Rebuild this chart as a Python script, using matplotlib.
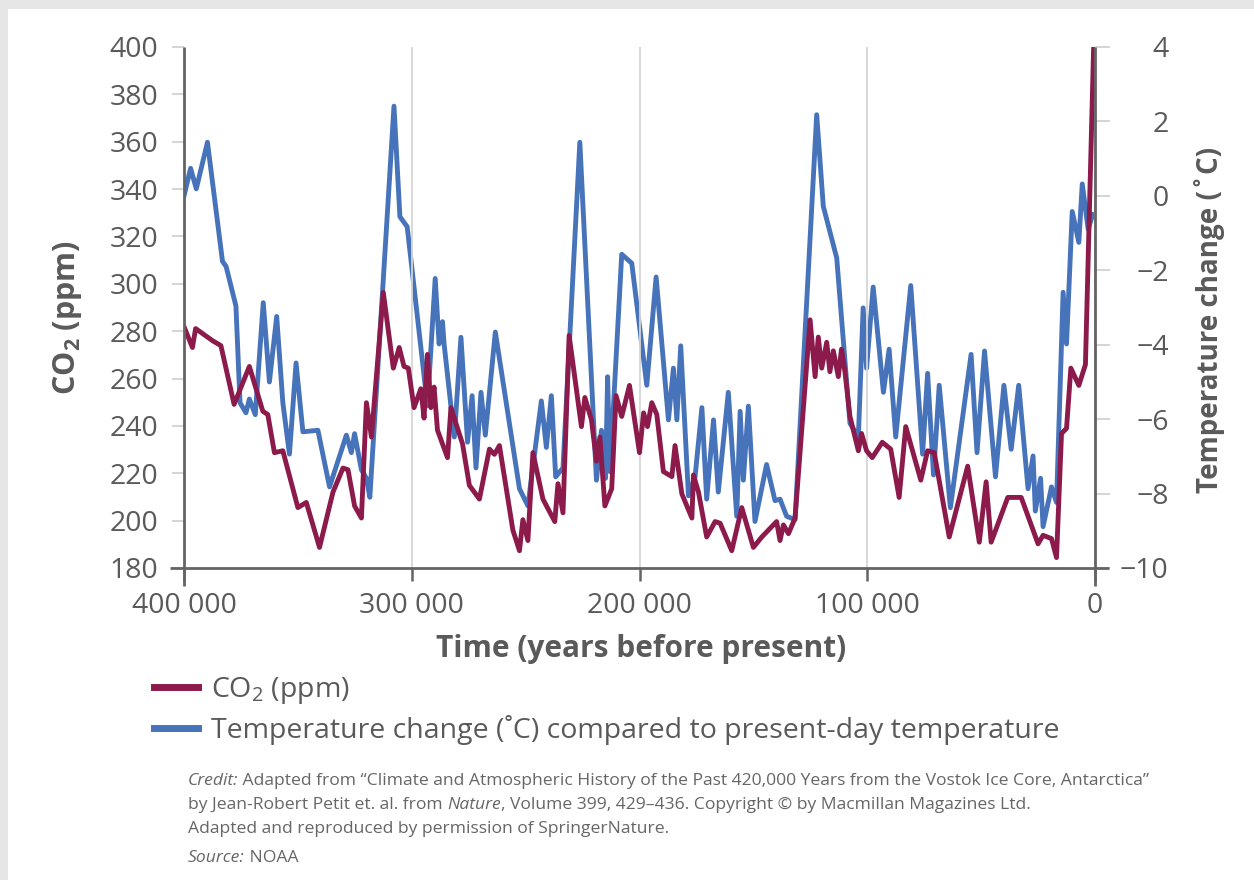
import numpy as np
import matplotlib
matplotlib.use("Agg")
import matplotlib.pyplot as plt
from matplotlib.lines import Line2D
from matplotlib.patches import Rectangle
from matplotlib.transforms import IdentityTransform

plt.rcParams['font.family'] = ['Open Sans', 'DejaVu Sans']
plt.rcParams['mathtext.fontset'] = 'custom'
plt.rcParams['mathtext.rm'] = 'Open Sans'
plt.rcParams['mathtext.it'] = 'Open Sans:italic'
plt.rcParams['mathtext.bf'] = 'Open Sans:bold'

# ---------------- data (time in thousand years before present) ----------------
temp_kyr = [400, 397.1, 394.6, 389.7, 383.1, 381.5, 377.2, 375.4, 372.8, 371.3, 368.7, 365.2,
            362.5, 359.3, 356.6, 353.7, 350.8, 347.8, 341.2, 336.1, 328.7, 326.5, 325.1, 322.1,
            319.9, 318.4, 307.8, 305.2, 302.0, 293.1, 289.7, 288.0, 286.5, 285.8, 281.3, 278.4,
            275.5, 273.5, 271.8, 269.6, 267.7, 263.3, 252.7, 249.0, 243.1, 240.9, 238.7, 236.8,
            233.6, 226.2, 218.9, 216.7, 214.9, 214.0, 213.0, 207.8, 203.4, 196.8, 192.7, 187.3,
            185.1, 183.6, 181.9, 178.5, 175.6, 172.6, 170.5, 167.5, 165.4, 161.0, 157.3, 155.8,
            154.4, 152.2, 149.3, 144.2, 140.5, 138.3, 135.4, 131.7, 122.2, 119.3, 113.4, 107.6,
            103.9, 101.8, 100.3, 97.4, 92.9, 90.4, 87.5, 80.9, 75.7, 73.5, 70.9, 68.4, 63.5,
            54.4, 51.8, 48.5, 43.7, 40.0, 36.8, 33.5, 29.4, 27.2, 26.2, 23.9, 22.8, 19.1, 16.9,
            14.0, 12.5, 10.0, 7.1, 5.6, 3.0, 1.0]
temp_change = [0.0, 0.74, 0.19, 1.44, -1.76, -1.9, -2.96, -5.56, -5.83, -5.46, -5.88, -2.87,
               -5.0, -3.24, -5.56, -6.94, -4.49, -6.34, -6.30, -7.82, -6.43, -6.90, -6.39, -7.36,
               -7.59, -8.10, 2.41, -0.56, -0.83, -5.64, -2.22, -3.98, -3.38, -3.98, -6.48, -3.80,
               -6.62, -5.37, -7.31, -5.28, -6.43, -3.66, -7.87, -8.33, -5.51, -6.76, -5.37, -7.55,
               -7.31, 1.44, -7.64, -6.30, -7.59, -4.86, -7.41, -1.57, -1.81, -5.09, -2.18, -6.02,
               -4.63, -6.02, -4.03, -8.06, -7.55, -5.69, -8.15, -6.02, -7.96, -5.28, -8.61, -5.79,
               -7.64, -5.65, -8.75, -7.22, -8.19, -8.15, -8.61, -8.70, 2.18, -0.28, -1.67, -6.11,
               -6.48, -3.01, -4.63, -2.45, -5.28, -4.12, -6.48, -2.41, -6.94, -4.77, -7.50, -5.09,
               -8.38, -4.26, -6.90, -4.17, -7.55, -5.09, -6.81, -5.09, -7.87, -6.99, -8.47, -7.59,
               -8.89, -7.82, -8.24, -2.59, -3.98, -0.42, -1.25, 0.32, -0.9, -0.5]

co2_kyr = [400, 396.3, 394.9, 387.5, 383.8, 378.0, 371.3, 365.4, 363.2, 360.3, 356.6, 350.0,
           346.3, 340.5, 334.6, 330.2, 328.0, 325.1, 322.1, 319.9, 317.7, 312.5, 308.1, 305.5,
           303.4, 301.5, 299.0, 296.0, 294.6, 293.1, 291.6, 290.2, 288.7, 284.3, 282.8, 277.7,
           274.7, 270.3, 265.9, 263.7, 261.5, 255.6, 252.7, 251.2, 249.0, 246.8, 242.4, 237.2,
           235.8, 233.6, 230.9, 225.5, 224.0, 221.1, 218.9, 217.4, 215.2, 212.2, 210.3, 207.8,
           204.4, 200.0, 198.2, 196.5, 194.6, 192.4, 189.5, 185.8, 184.4, 181.4, 177.0, 176.3,
           174.1, 170.5, 166.8, 164.6, 159.5, 155.1, 150.0, 146.3, 139.8, 138.3, 136.8, 134.6,
           131.7, 125.1, 122.9, 121.5, 120.0, 117.8, 116.4, 114.9, 112.7, 111.3, 109.8, 107.6,
           103.9, 102.5, 100.3, 97.8, 93.4, 89.7, 86.0, 83.1, 76.5, 73.5, 70.6, 64.0, 55.9,
           50.8, 47.8, 45.6, 38.3, 32.4, 25.0, 22.8, 19.1, 16.9, 14.7, 12.5, 10.6, 7.1, 4.2, 0.6]
co2_ppm = [281.9, 273.1, 281.1, 276.0, 273.9, 249.1, 265.1, 246.2, 244.8, 228.7, 229.5, 205.5,
           207.7, 188.7, 212.0, 222.2, 221.5, 206.2, 201.1, 249.8, 235.3, 296.4, 264.4, 273.1,
           265.1, 264.4, 247.7, 255.7, 243.3, 270.2, 247.7, 256.4, 238.2, 226.6, 247.7, 232.4,
           214.9, 209.1, 230.2, 228.0, 231.7, 196.0, 187.3, 200.4, 191.6, 228.7, 209.1, 199.6,
           215.6, 203.3, 278.2, 239.7, 252.0, 242.6, 225.1, 235.3, 206.2, 213.5, 252.8, 244.0,
           257.1, 228.7, 245.5, 239.7, 249.8, 244.8, 220.7, 218.6, 231.7, 211.3, 201.1, 219.3,
           212.0, 193.1, 199.6, 198.9, 187.3, 205.5, 188.7, 193.1, 199.6, 191.6, 198.2, 194.5,
           201.1, 284.8, 260.8, 277.5, 264.4, 275.3, 262.9, 271.7, 260.8, 272.4, 262.9, 244.0,
           229.5, 236.8, 229.5, 226.6, 233.1, 230.2, 209.8, 239.7, 217.1, 229.5, 228.7, 193.1,
           223.0, 190.9, 216.4, 190.9, 209.8, 209.8, 190.2, 193.8, 192.4, 184.4, 236.8, 239.0,
           264.4, 257.1, 265.9, 399.7]

x_ticks = [400000, 300000, 200000, 100000, 0]
co2_ticks = list(range(180, 401, 20))
temp_ticks = list(range(-10, 5, 2))

series_labels = ["CO$_2$ (ppm)", "Temperature change (˚C) compared to present-day temperature"]

# ---------------- style ----------------
RED = "#8c1a4b"
BLUE = "#4673b9"
TXT = "#5a5a5a"
SPINE = "#646464"
GRID = "#d6d6d6"
TICKFS = 20.5

W, H = 1254, 880
fig = plt.figure(figsize=(W / 100, H / 100), dpi=100)
fig.patch.set_facecolor("#e6e6e6")
fig.add_artist(Rectangle((8 / W, 0), 1, 1 - 9 / H, transform=fig.transFigure,
                         facecolor="white", edgecolor="none", zorder=-10))

ax = fig.add_axes([184 / W, 1 - 568 / H, 911 / W, 521 / H])
axt = ax.twinx()
ax.set_zorder(axt.get_zorder() + 1)
ax.patch.set_visible(False)
axt.patch.set_visible(False)

axt.plot(np.array(temp_kyr) * 1000, temp_change, color=BLUE, lw=3.5, solid_joinstyle="round")
ax.plot(np.array(co2_kyr) * 1000, co2_ppm, color=RED, lw=3.5, solid_joinstyle="round")

ax.set_xlim(400000, 0)
ax.set_ylim(180, 400)
axt.set_ylim(-10, 4)

for a in (ax, axt):
    for s in a.spines.values():
        s.set_visible(False)

ax.set_xticks(x_ticks, labels=[f"{v:,}".replace(",", " ") for v in x_ticks])
ax.tick_params(axis="x", length=9, width=1.8, color=SPINE, labelcolor=TXT,
               labelsize=TICKFS, pad=8)
ax.grid(axis="x", color=GRID, lw=1.3)

ax.set_yticks(co2_ticks, labels=[str(v) for v in co2_ticks])
ax.tick_params(axis="y", length=8.5, width=1.1, color="#c9c9c9", labelcolor=TXT,
               labelsize=TICKFS, pad=10)

axt.set_yticks(temp_ticks, labels=[str(v).replace("-", "\u2212") for v in temp_ticks], ha="right")
axt.tick_params(axis="y", length=11, width=1.1, color="#c9c9c9", labelcolor=TXT,
                labelsize=TICKFS, pad=42)

# spines with small overshoot, as in the original
kw = dict(transform=ax.transAxes, color=SPINE, lw=2.0, clip_on=False, zorder=6,
          solid_capstyle="butt")
ax.add_line(Line2D([0, 0], [-0.035, 1], **kw))
ax.add_line(Line2D([1, 1], [-0.035, 1], **kw))
ax.add_line(Line2D([-0.0155, 1.0155], [0, 0], **kw))

# axis titles
fig.text(641 / W, 1 - 649 / H, "Time (years before present)", ha="center", va="center",
         fontsize=21.5, fontweight="bold", color=TXT)
fig.text(68 / W, 1 - 318 / H, r"CO$_\mathbf{2}$ (ppm)", rotation=90, ha="center", va="center",
         fontsize=22, fontweight="bold", color=TXT)
fig.text(1210 / W, 1 - 320 / H, "Temperature change (˚C)", rotation=90, ha="center",
         va="center", fontsize=20, fontweight="bold", color=TXT)

# legend
handles = [Line2D([], [], color=RED, lw=5), Line2D([], [], color=BLUE, lw=5)]
fig.legend(handles, series_labels, loc="upper left", bbox_to_anchor=(154 / W, 1 - 675 / H),
           frameon=False, fontsize=20.5, labelcolor=TXT, handlelength=1.55,
           handletextpad=0.45, labelspacing=0.33, borderpad=0, borderaxespad=0)

# credit block, with italic runs
renderer = fig.canvas.get_renderer()
credit_lines = [
    (785, [("Credit:", "italic"),
           (" Adapted from \u201cClimate and Atmospheric History of the Past 420,000 Years from the Vostok Ice Core, Antarctica\u201d", "normal")]),
    (809, [("by Jean-Robert Petit et. al. from ", "normal"), ("Nature", "italic"),
           (", Volume 399, 429\u2013436. Copyright \u00a9 by Macmillan Magazines Ltd.", "normal")]),
    (833, [("Adapted and reproduced by permission of SpringerNature.", "normal")]),
    (862, [("Source:", "italic"), (" NOAA", "normal")]),
]
for ybase, runs in credit_lines:
    x = 188
    for txt, st in runs:
        t = fig.text(x, H - ybase, txt, style=st, fontsize=12.6, color="#666666",
                     ha="left", va="baseline", transform=IdentityTransform())
        x += t.get_window_extent(renderer).width

fig.savefig("out.png", dpi=100)
